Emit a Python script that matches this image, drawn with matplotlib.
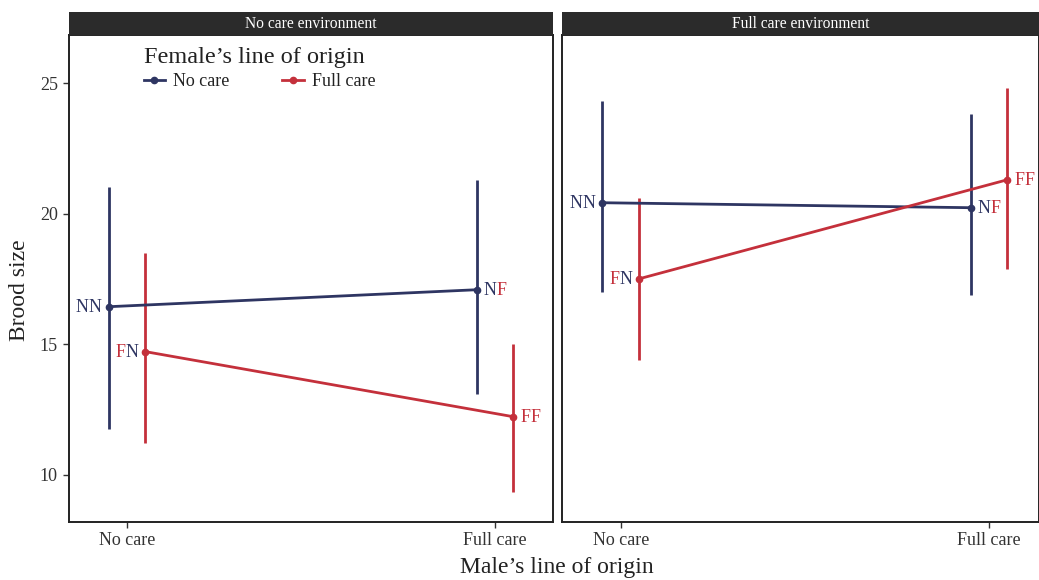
import matplotlib
matplotlib.use("Agg")
import matplotlib.pyplot as plt
from matplotlib.lines import Line2D
from matplotlib import transforms

plt.rcParams['font.family'] = ['Liberation Serif', 'DejaVu Serif']

# ---- data ----
male_lines = ["No care", "Full care"]          # x categories
female_lines = ["No care", "Full care"]        # series
environments = ["No care environment", "Full care environment"]
codes = {"No care": "N", "Full care": "F"}

# No care environment
noenv_nocare_mean = [16.44, 17.09]
noenv_nocare_lo = [11.77, 13.11]
noenv_nocare_hi = [21.03, 21.30]
noenv_full_mean = [14.72, 12.23]
noenv_full_lo = [11.24, 9.36]
noenv_full_hi = [18.51, 15.02]

# Full care environment
fullenv_nocare_mean = [20.42, 20.23]
fullenv_nocare_lo = [17.01, 16.90]
fullenv_nocare_hi = [24.32, 23.83]
fullenv_full_mean = [17.51, 21.30]
fullenv_full_lo = [14.41, 17.90]
fullenv_full_hi = [20.61, 24.82]

yticks = [10, 15, 20, 25]

panels = [
    {"No care": (noenv_nocare_mean, noenv_nocare_lo, noenv_nocare_hi),
     "Full care": (noenv_full_mean, noenv_full_lo, noenv_full_hi)},
    {"No care": (fullenv_nocare_mean, fullenv_nocare_lo, fullenv_nocare_hi),
     "Full care": (fullenv_full_mean, fullenv_full_lo, fullenv_full_hi)},
]

colors = {"No care": "#2E3562", "Full care": "#C4303B"}
letter_color = {"N": colors["No care"], "F": colors["Full care"]}
dodge = {"No care": -0.05, "Full care": 0.05}

W, H = 1039, 580
fig = plt.figure(figsize=(W / 100, H / 100), dpi=100)

ax_boxes = [(69, 553), (562, 1039)]
xlims = [(0.842, 2.158), (0.84, 2.136)]
top_px, bot_px = 35, 522
strip_top = 12

axes = []
for i, (x0, x1) in enumerate(ax_boxes):
    ax = fig.add_axes([x0 / W, 1 - bot_px / H, (x1 - x0) / W, (bot_px - top_px) / H])
    axes.append(ax)
    ax.set_xlim(*xlims[i])
    ax.set_ylim(8.2, 26.84)
    for s in ax.spines.values():
        s.set_color("#222222")
        s.set_linewidth(1.4)
    ax.set_xticks([1, 2])
    ax.set_xticklabels(male_lines, fontsize=13, color="#333333")
    ax.tick_params(axis="x", length=4, width=1, color="#333333", pad=3)
    if i == 0:
        ax.set_yticks(yticks)
        ax.set_yticklabels([str(t) for t in yticks], fontsize=13, color="#333333")
        ax.tick_params(axis="y", length=4, width=1, color="#333333", pad=4)
    else:
        ax.set_yticks([])
    # strip
    sax = fig.add_axes([x0 / W, 1 - top_px / H, (x1 - x0) / W, (top_px - strip_top) / H])
    sax.set_facecolor("#2B2B2B")
    sax.set_xticks([]); sax.set_yticks([])
    for s in sax.spines.values():
        s.set_visible(False)
    sax.text(0.5, 0.5, environments[i], color="white", fontsize=11.2,
             ha="center", va="center", transform=sax.transAxes)

renderer = fig.canvas.get_renderer()

for i, ax in enumerate(axes):
    for fem in female_lines:
        mean, lo, hi = panels[i][fem]
        xs = [k + 1 + dodge[fem] for k in range(len(male_lines))]
        c = colors[fem]
        ax.vlines(xs, lo, hi, color=c, lw=2.0, zorder=2)
        ax.plot(xs, mean, color=c, lw=2.0, marker="o", markersize=4.5, zorder=3)
        for k, male in enumerate(male_lines):
            l1, l2 = codes[fem], codes[male]
            x, y = xs[k], mean[k]
            gap = 7
            dy = -5
            if k == 0:
                t2 = ax.text(x, y, l2, color=letter_color[l2], fontsize=13, ha="right", va="baseline",
                             transform=transforms.offset_copy(ax.transData, fig=fig, x=-gap, y=dy, units="dots"))
                w2 = t2.get_window_extent(renderer).width
                ax.text(x, y, l1, color=letter_color[l1], fontsize=13, ha="right", va="baseline",
                        transform=transforms.offset_copy(ax.transData, fig=fig, x=-gap - w2, y=dy, units="dots"))
            else:
                t1 = ax.text(x, y, l1, color=letter_color[l1], fontsize=13, ha="left", va="baseline",
                             transform=transforms.offset_copy(ax.transData, fig=fig, x=gap, y=dy, units="dots"))
                w1 = t1.get_window_extent(renderer).width
                ax.text(x, y, l2, color=letter_color[l2], fontsize=13, ha="left", va="baseline",
                        transform=transforms.offset_copy(ax.transData, fig=fig, x=gap + w1, y=dy, units="dots"))

handles = [Line2D([], [], color=colors[f], lw=2.0, marker="o", markersize=4.5) for f in female_lines]
leg = axes[0].legend(handles, female_lines, title="Female\u2019s line of origin", ncol=2,
                     loc="upper left", bbox_to_anchor=(140 / W, 1 - 43 / H),
                     bbox_transform=fig.transFigure, frameon=False, fontsize=13,
                     title_fontsize=17.5, handlelength=1.2, handletextpad=0.45,
                     columnspacing=2.9, borderaxespad=0, borderpad=0.2,
                     alignment="left", labelspacing=0.3)
for t in leg.get_texts():
    t.set_color("#222222")
leg.get_title().set_color("#222222")

fig.text(557 / W, 1 - 567 / H, "Male\u2019s line of origin", fontsize=17, ha="center", va="center",
         color="#222222")
fig.text(20 / W, 1 - 290 / H, "Brood size", fontsize=17, ha="center", va="center",
         rotation=90, color="#222222")

fig.savefig("out.png", dpi=100)
